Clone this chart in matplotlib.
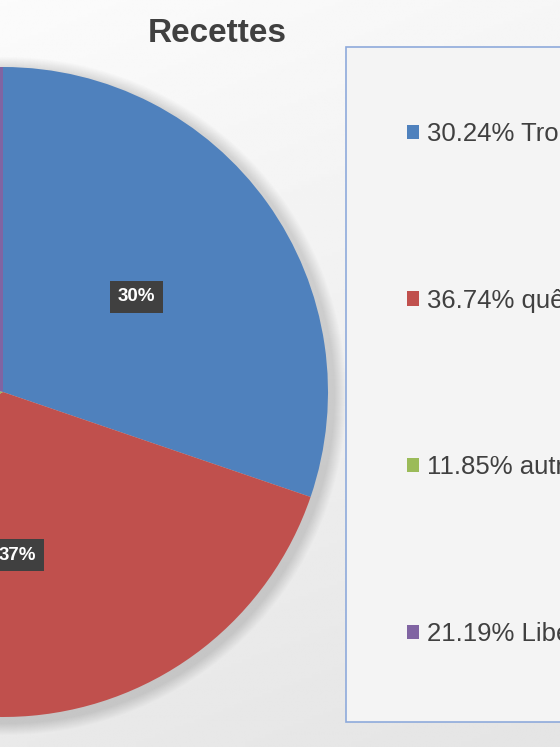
import numpy as np
import matplotlib
matplotlib.use("Agg")
import matplotlib.pyplot as plt
from matplotlib.patches import Rectangle, Circle

# data
categories = ["Troncs", "quêtes", "autres", "Libéralités"]
shares = [30.24, 36.74, 11.85, 21.19]
colors = ["#4F81BD", "#C0504D", "#9BBB59", "#8064A2"]
legend_labels = ["%.2f%% %s" % (s, c) for s, c in zip(shares, categories)]

W, H = 560, 747
fig = plt.figure(figsize=(W / 100, H / 100), dpi=100)

# soft grey background gradient
bg = fig.add_axes([0, 0, 1, 1])
yy, xx = np.mgrid[0:1:200j, 0:1:200j]
grad = 0.985 - 0.07 * yy - 0.02 * xx
bg.imshow(grad, cmap="gray", vmin=0, vmax=1, extent=[0, 1, 0, 1], aspect="auto", origin="upper")
bg.axis("off")

# pie axis in pixel-like units
ax = fig.add_axes([0, 0, 1, 1])

cx, cy, r = 3, H - 392, 325
# faint shadow around the pie
for k in range(12):
    ax.add_patch(Circle((cx + 4, cy - 4), r + 14 - k, color="#000000", alpha=0.012, lw=0))

wedges, texts, autotexts = ax.pie(
    shares, colors=colors, startangle=90, counterclock=False,
    center=(cx, cy), radius=r, autopct="%1.0f%%", pctdistance=0.505,
    wedgeprops=dict(linewidth=0), frame=True,
    textprops=dict(color="white", fontsize=13.5, fontweight="bold", family="Liberation Sans"))
for t in autotexts:
    t.set_bbox(dict(boxstyle="square,pad=0.4", facecolor="#404040", edgecolor="none"))
ax.set_xlim(0, W)
ax.set_ylim(0, H)
ax.set_aspect("equal")
ax.axis("off")

fig.text(217 / W, 1 - 34 / H, "Recettes", ha="center", va="center",
         fontsize=24, fontweight="bold", color="#404040", family="Liberation Sans")

# legend frame
fig.patches.append(Rectangle((346 / W, 1 - 722 / H), 0.6, (722 - 47) / H,
                             transform=fig.transFigure, facecolor="#f4f4f4",
                             edgecolor="#8EAADB", linewidth=1.2, zorder=1))
leg = fig.legend(wedges, legend_labels, loc="upper left",
                 bbox_to_anchor=(407 / W, 1 - 122 / H), frameon=False,
                 borderaxespad=0, borderpad=0,
                 prop=dict(family="Liberation Sans", size=18.5),
                 labelcolor="#404040", handlelength=0.47, handleheight=0.47,
                 handletextpad=0.31, labelspacing=5.55)
leg.set_zorder(3)

fig.savefig("out.png", dpi=100)
